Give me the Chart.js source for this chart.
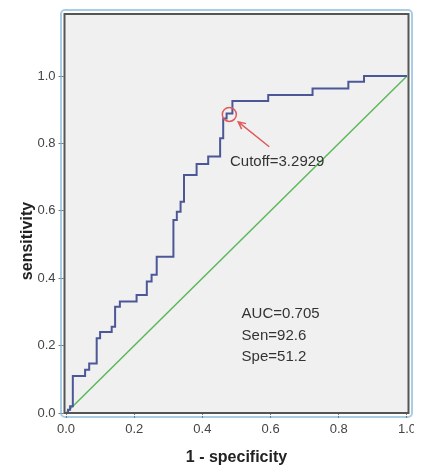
<!DOCTYPE html>
<html>
<head>
<meta charset="utf-8">
<script src="https://cdn.jsdelivr.net/npm/chart.js@4/dist/chart.umd.min.js"></script>
<style>
  body { margin: 0; background: #fff; }
  #wrap { width: 414px; height: 472px; }
</style>
</head>
<body>
<div id="wrap"><canvas id="rocChart" width="414" height="472"></canvas></div>
<script>
// ROC curve corners (1 - specificity, sensitivity)
var fprValues = [0, 0.006, 0.012, 0.02, 0.056, 0.068, 0.09, 0.1, 0.134, 0.144, 0.158, 0.207,
                 0.237, 0.251, 0.266, 0.315, 0.325, 0.336, 0.346, 0.383, 0.417, 0.452, 0.461,
                 0.471, 0.488, 0.593, 0.723, 0.828, 0.874, 1.0];
var tprValues = [0, 0.01, 0.02, 0.11, 0.128, 0.147, 0.222, 0.24, 0.256, 0.315, 0.331, 0.35,
                 0.39, 0.41, 0.464, 0.573, 0.597, 0.627, 0.706, 0.739, 0.761, 0.815, 0.874,
                 0.889, 0.926, 0.944, 0.963, 0.983, 1.0, 1.0];
var refX = [0, 1];
var refY = [0, 1];
var xTicks = [0, 0.2, 0.4, 0.6, 0.8, 1.0];
var yTicks = [0, 0.2, 0.4, 0.6, 0.8, 1.0];
var statLines = ['AUC=0.705', 'Sen=92.6', 'Spe=51.2'];
var cutoffLabel = 'Cutoff=3.2929';
var cutoffPoint = { x: 0.479, y: 0.886 };

var FONT = "'Liberation Sans', Arial, sans-serif";

var framePlugin = {
  id: 'spssFrame',
  beforeDraw: function(chart) {
    var ctx = chart.ctx, a = chart.chartArea;
    ctx.save();
    ctx.fillStyle = '#f0f0f0';
    ctx.fillRect(a.left, a.top, a.right - a.left, a.bottom - a.top);
    // light blue outer frame
    ctx.strokeStyle = '#a9cde4';
    ctx.lineWidth = 2;
    ctx.beginPath();
    ctx.roundRect(a.left - 3.5, a.top - 4, a.right - a.left + 7, a.bottom - a.top + 8, 4);
    ctx.stroke();
    ctx.restore();
  },
  afterDatasetsDraw: function(chart) {
    var ctx = chart.ctx, a = chart.chartArea;
    var xs = chart.scales.x, ys = chart.scales.y;
    ctx.save();
    ctx.strokeStyle = '#555';
    ctx.lineWidth = 2;
    ctx.strokeRect(a.left, a.top, a.right - a.left, a.bottom - a.top);

    // cutoff circle
    var cx = xs.getPixelForValue(cutoffPoint.x), cy = ys.getPixelForValue(cutoffPoint.y);
    ctx.strokeStyle = '#e05a5a';
    ctx.lineWidth = 1.5;
    ctx.beginPath();
    ctx.arc(cx, cy, 7, 0, Math.PI * 2);
    ctx.stroke();

    // arrow
    var tx = xs.getPixelForValue(0.596), ty = ys.getPixelForValue(0.79);
    var hx = xs.getPixelForValue(0.505), hy = ys.getPixelForValue(0.864);
    var ang = Math.atan2(hy - ty, hx - tx);
    ctx.beginPath();
    ctx.moveTo(tx, ty);
    ctx.lineTo(hx, hy);
    ctx.moveTo(hx - 8 * Math.cos(ang - 0.45), hy - 8 * Math.sin(ang - 0.45));
    ctx.lineTo(hx, hy);
    ctx.lineTo(hx - 8 * Math.cos(ang + 0.45), hy - 8 * Math.sin(ang + 0.45));
    ctx.stroke();

    // annotations
    ctx.fillStyle = '#333';
    ctx.font = '15px ' + FONT;
    ctx.textAlign = 'left';
    ctx.textBaseline = 'middle';
    ctx.fillText(cutoffLabel, xs.getPixelForValue(0.481), ys.getPixelForValue(0.744));
    var sx = xs.getPixelForValue(0.515);
    var sy = ys.getPixelForValue(0.294);
    statLines.forEach(function(t, i) {
      ctx.fillText(t, sx, sy + i * 21.5);
    });

    // axis titles
    ctx.fillStyle = '#222';
    ctx.font = 'bold 16px ' + FONT;
    ctx.textAlign = 'center';
    ctx.fillText('1 - specificity', (a.left + a.right) / 2, 458);
    ctx.translate(28, 241);
    ctx.rotate(-Math.PI / 2);
    ctx.fillText('sensitivity', 0, 0);
    ctx.restore();
  }
};

function tickOpts() {
  return {
    color: '#444',
    font: { size: 13, family: FONT },
    padding: 3,
    autoSkip: false,
    maxRotation: 0,
    callback: function(v) { return Number(v).toFixed(1); }
  };
}

function gridOpts() {
  return {
    drawOnChartArea: false,
    drawTicks: true,
    tickLength: 6,
    color: '#777',
    tickBorderDash: [2, 1]
  };
}

window.onload = function() {
  var ctx = document.getElementById('rocChart');

  new Chart(ctx, {
    type: 'scatter',
    data: {
      datasets: [{
        label: 'ROC',
        data: fprValues.map(function(x, i) { return { x: x, y: tprValues[i] }; }),
        showLine: true,
        stepped: 'before',
        borderColor: '#4b5796',
        borderWidth: 2,
        pointRadius: 0,
        fill: false
      }, {
        label: 'Reference',
        data: refX.map(function(x, i) { return { x: x, y: refY[i] }; }),
        showLine: true,
        borderColor: '#5cb85c',
        borderWidth: 1.5,
        pointRadius: 0,
        fill: false
      }]
    },
    options: {
      responsive: false,
      animation: false,
      devicePixelRatio: 1,
      layout: { padding: { top: 14, right: 5.5, bottom: 0, left: 0 } },
      plugins: {
        legend: { display: false },
        tooltip: { enabled: false }
      },
      scales: {
        x: {
          type: 'linear',
          min: -0.0044,
          max: 1.0044,
          afterBuildTicks: function(s) { s.ticks = xTicks.map(function(v) { return { value: v }; }); },
          ticks: tickOpts(),
          grid: gridOpts(),
          border: { display: false },
          afterFit: function(s) { s.height = 59; s.paddingLeft = 0; s.paddingRight = 0; }
        },
        y: {
          type: 'linear',
          min: 0,
          max: 1.184,
          afterBuildTicks: function(s) { s.ticks = yTicks.map(function(v) { return { value: v }; }); },
          ticks: tickOpts(),
          grid: gridOpts(),
          border: { display: false },
          afterFit: function(s) { s.width = 64.5; s.paddingTop = 0; s.paddingBottom = 0; }
        }
      }
    },
    plugins: [framePlugin]
  });
};
</script>
</body>
</html>
